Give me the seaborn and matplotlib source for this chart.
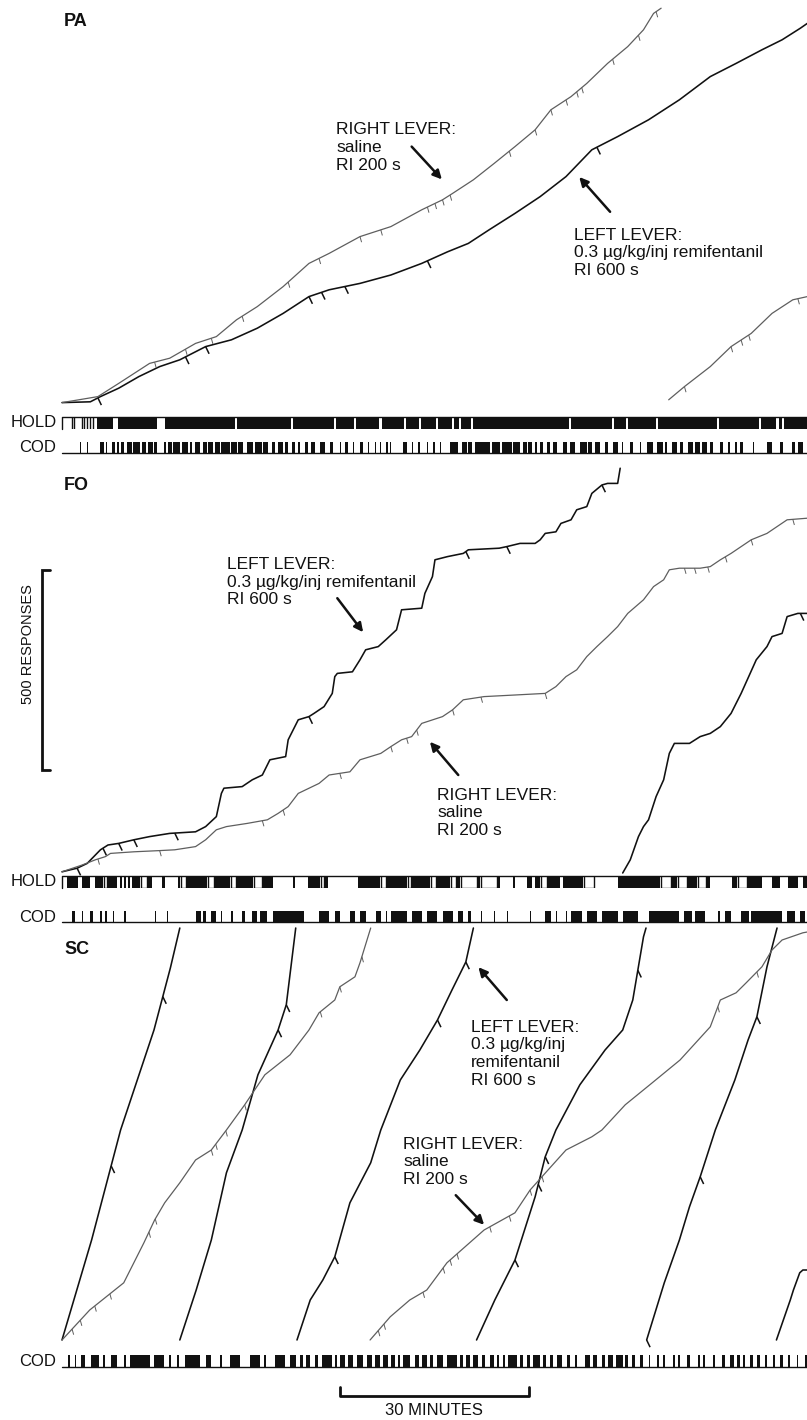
import numpy as np
import matplotlib
matplotlib.use("Agg")
import matplotlib.pyplot as plt
import seaborn as sns

sns.set_theme(style="white")
plt.rcParams["font.family"] = ["Liberation Sans", "DejaVu Sans"]

# ------------------------------------------------------------------ DATA
# time in minutes, cumulative responses (pen resets after ~1000 responses)
# ---- PA ----
pa_left_t = [0, 4.5, 6.1, 9.0, 12.2, 15.5, 18.7, 22.8, 26.9, 31.0, 35.1, 39.2, 42.4, 47.3, 52.2, 57.1, 61.2,
             64.5, 67.8, 71.9, 75.9, 80.0, 84.1, 88.2, 93.1, 98.0, 102.9, 107.0, 111.1, 114.3, 117.2, 118.3]
pa_left_r = [1, 3, 16, 37, 66, 91, 108, 141, 158, 187, 224, 266, 283, 299, 320, 349, 378,
             399, 433, 474, 516, 566, 633, 666, 708, 758, 816, 849, 883, 908, 937, 949]
pa_left_rf = [5.7, 19.6, 22.8, 39.2, 41.2, 44.9, 58.0, 84.9]

pa_right1_t = [0, 5.7, 9.0, 13.9, 17.1, 21.2, 24.5, 27.7, 31.0, 35.1, 39.2, 42.4, 47.3, 52.2, 57.1, 60.4, 62.0,
               65.3, 68.6, 71.9, 75.1, 77.6, 80.8, 83.3, 86.6, 89.8, 92.3, 93.9, 95.1]
pa_right1_r = [1, 16, 49, 99, 112, 149, 166, 208, 241, 291, 349, 374, 416, 441, 483, 508, 524,
               558, 599, 641, 683, 733, 766, 799, 849, 891, 933, 974, 987]
pa_right1_rf = [14.7, 19.6, 23.7, 28.6, 35.9, 40.8, 47.3, 50.6, 58.0, 59.2, 60.4, 61.6, 71.0, 75.1, 77.6,
                80.0, 81.7, 82.5, 87.4, 91.5, 94.3]
pa_right2_t = [96.3, 98.8, 102.9, 106.2, 109.4, 112.7, 116.0, 118.3]
pa_right2_r = [8, 41, 91, 141, 174, 224, 258, 266]
pa_right2_rf = [98.8, 106.2, 107.8, 109.0, 116.8]

# ---- FO ----
fo_left1_t = [0, 2.4, 4.0, 6.1, 7.3, 9.0, 11.4, 13.9, 17.1, 21.2, 22.8, 24.5, 25.3, 25.7, 28.6, 30.2, 31.8,
              33.0, 35.5, 35.9, 36.7, 37.5, 39.2, 40.0, 41.6, 42.9, 43.3, 43.7, 46.1, 47.3, 48.2, 50.2, 51.4,
              53.1, 53.9, 57.1, 57.6, 58.8, 59.2, 61.2, 63.7, 64.5, 69.4, 70.6, 72.7, 75.1, 75.9, 76.7, 78.4,
              79.2, 80.8, 81.7, 83.3, 84.1, 85.7, 86.6, 88.2, 88.6]
fo_left1_r = [3, 12, 24, 58, 70, 74, 83, 91, 99, 103, 116, 141, 199, 212, 216, 233, 245,
              283, 291, 333, 358, 383, 391, 399, 416, 449, 491, 499, 503, 533, 558, 566, 583,
              608, 658, 662, 699, 741, 783, 791, 799, 808, 812, 816, 824, 824, 833, 849, 853,
              874, 883, 908, 916, 949, 970, 974, 974, 1012]
fo_left1_rf = [2.4, 6.5, 9.0, 11.4, 17.9, 39.2, 64.1, 70.6, 85.7]
fo_left2_t = [89.0, 90.2, 91.5, 92.3, 93.1, 94.3, 95.5, 96.4, 97.2, 99.6, 101.3, 102.9, 104.5, 106.2, 107.8,
              109.0, 110.2, 111.9, 112.7, 114.3, 115.1, 116.8, 118.3]
fo_left2_r = [0, 33, 91, 116, 133, 191, 233, 299, 324, 324, 341, 349, 366, 399, 449,
              491, 533, 566, 591, 599, 641, 649, 649]
fo_left2_rf = [117.2]
fo_right_t = [0, 3.2, 5.3, 6.9, 7.7, 11.4, 15.5, 17.9, 21.2, 22.8, 24.5, 26.1, 29.4, 32.6, 34.3, 35.9, 37.5,
              40.8, 42.4, 45.7, 47.3, 50.6, 52.2, 53.9, 55.5, 57.1, 60.4, 62.0, 63.7, 67.0, 71.9, 76.7, 78.4,
              80.0, 81.7, 83.3, 84.9, 86.6, 88.2, 89.8, 92.3, 93.9, 95.5, 96.4, 98.0, 101.3, 102.9, 104.5,
              106.2, 107.8, 109.4, 111.9, 113.5, 115.1, 118.3]
fo_right_r = [3, 20, 33, 41, 49, 53, 56, 58, 66, 83, 108, 116, 124, 133, 149, 166, 199,
              224, 245, 253, 283, 299, 316, 333, 341, 374, 391, 408, 433, 441, 445, 449, 466,
              491, 508, 541, 566, 591, 616, 649, 683, 716, 733, 758, 762, 762, 766, 783,
              799, 816, 833, 849, 866, 883, 887]
fo_right_rf = [5.7, 15.5, 31.8, 35.1, 44.1, 52.2, 54.7, 56.3, 62.0, 66.5, 76.7, 98.8, 100.4, 102.5,
               105.3, 109.4, 116.0]

# ---- SC ----
sc_left_segments = [
    ([0, 4.7, 9.3, 14.6, 17.2, 18.7],
     [0, 250, 525, 775, 930, 1030], [7.8, 16.0]),
    ([18.7, 21.3, 23.7, 26.1, 28.6, 31.1, 34.3, 35.6, 37.1],
     [0, 125, 250, 418, 525, 663, 775, 838, 1030], [34.3, 35.6]),
    ([37.3, 39.4, 41.4, 43.3, 45.7, 49.0, 50.6, 53.7, 56.8, 59.6, 61.9, 64.1, 65.3],
     [0, 100, 150, 208, 343, 443, 525, 650, 725, 800, 875, 945, 1030], [43.3, 59.6, 64.1]),
    ([65.8, 68.7, 71.9, 75.1, 76.7, 78.4, 82.2, 86.2, 89.0, 90.6, 92.3, 92.7],
     [0, 100, 200, 358, 458, 525, 638, 725, 775, 850, 1008, 1030], [71.9, 75.6, 76.7, 91.4]),
    ([92.8, 95.6, 98.0, 99.6, 101.3, 103.7, 106.8, 108.9, 110.3, 111.9, 113.5],
     [0, 143, 250, 333, 408, 525, 650, 750, 808, 933, 1030], [92.8, 101.3, 110.3]),
    ([113.4, 114.5, 115.6, 116.1, 117.1, 117.6, 118.3],
     [0, 50, 100, 125, 168, 175, 175], []),
]
sc_right_segments = [
    ([0, 4.4, 9.8, 13.0, 14.7, 16.3, 18.7, 21.2, 23.7, 26.1, 29.0, 32.2, 36.2, 39.2, 40.8, 43.3, 44.1,
      46.5, 47.3, 49.0],
     [0, 75, 143, 243, 300, 343, 393, 450, 475, 525, 588, 663, 713, 775, 818, 850, 883, 908, 943, 1030],
     [1.6, 2.9, 5.2, 7.6, 13.8, 14.8, 23.7, 24.4, 26.0, 29.0, 41.0, 44.1, 47.6]),
    ([48.9, 52.1, 55.2, 57.9, 61.1, 67.0, 71.9, 74.3, 77.6, 80.0, 84.1, 85.7, 89.4, 93.3, 98.1, 102.9,
      104.5, 107.0, 108.6, 111.1, 112.7, 114.3, 117.6, 118.3],
     [0, 58, 100, 125, 193, 275, 318, 375, 433, 475, 508, 525, 588, 638, 700, 783, 850, 868, 893, 933,
      975, 1000, 1018, 1020],
     [50.2, 51.1, 57.3, 60.5, 61.6, 62.7, 67.9, 71.0, 74.3, 76.2, 104.1, 110.3]),
]

# ---- event records (minutes) ----
pa_hold_start = 5.6
pa_hold_gaps = [(8.1, 8.9), (15.1, 16.3), (27.5, 27.8), (36.3, 36.7), (43.2, 43.5), (46.3, 46.7), (50.3, 50.8),
                (54.3, 54.6), (56.7, 57.0), (59.4, 59.7), (61.9, 62.2), (63.0, 63.3), (64.9, 65.2), (80.5, 80.8),
                (87.3, 87.6), (89.5, 89.8), (94.3, 94.6), (104.0, 104.3), (110.6, 111.0), (113.3, 113.8),
                (114.3, 114.6)]
pa_hold_ticks = [1.6, 1.9, 3.2, 3.5, 4.0, 4.4, 4.9]

pa_cod = [(2.9, 2.9), (4.0, 4.0), (6.0, 6.6), (7.0, 7.0), (7.9, 8.4), (8.8, 8.8), (9.3, 9.8), (10.3, 11.1),
          (11.3, 12.4), (12.7, 13.4), (13.7, 14.4), (14.6, 15.0), (16.2, 16.5), (16.8, 17.4), (17.6, 18.7),
          (19.0, 20.0), (20.3, 20.6), (21.1, 21.9), (22.4, 23.0), (23.2, 24.0), (24.3, 25.1), (25.3, 26.7),
          (26.9, 27.7), (27.9, 28.7), (29.3, 30.3), (30.6, 31.7), (31.9, 32.7), (33.3, 33.8), (34.3, 35.1),
          (35.4, 35.9), (36.5, 37.0), (37.5, 37.8), (38.6, 39.0), (39.6, 40.2), (41.0, 41.7), (42.5, 43.0),
          (44.1, 44.1), (44.9, 45.4), (46.2, 46.2), (47.3, 47.8), (48.6, 48.6), (49.7, 49.7), (50.5, 50.5),
          (51.5, 51.5), (52.1, 52.3), (54.1, 54.8), (55.6, 55.7), (56.5, 56.8), (57.9, 57.9), (58.9, 59.2),
          (60.0, 60.0), (61.6, 62.9), (63.5, 64.3), (64.4, 65.1), (65.6, 67.9), (68.3, 69.5), (69.8, 71.4),
          (71.6, 72.7), (73.2, 73.8), (74.0, 74.6), (75.1, 75.4), (75.9, 76.3), (77.0, 77.5), (77.9, 78.6),
          (79.5, 80.2), (80.6, 81.4), (82.2, 83.3), (83.5, 84.1), (84.6, 85.4), (86.2, 86.7), (87.5, 88.3),
          (88.9, 89.0), (90.2, 90.6), (91.7, 91.7), (92.9, 93.8), (94.4, 95.4), (95.7, 96.0), (96.8, 97.6),
          (98.1, 98.6), (99.4, 100.2), (100.5, 101.3), (101.6, 102.4), (102.9, 103.3), (104.4, 104.9),
          (105.7, 106.0), (106.8, 107.1), (107.6, 108.1), (109.7, 109.7), (111.9, 112.7), (114.0, 114.4),
          (115.9, 116.3), (116.8, 117.6)]

fo_hold_black = [(0.8, 2.5), (3.2, 4.4), (5.2, 6.5), (7.3, 8.7), (9.2, 9.5), (9.8, 10.2), (10.5, 10.8),
                 (11.1, 12.4), (13.7, 14.3), (15.9, 16.3), (18.4, 18.7), (19.8, 23.0), (24.3, 26.7), (27.8, 30.3),
                 (31.9, 33.5), (36.7, 37.0), (39.0, 41.0), (41.7, 42.2), (47.0, 50.5), (51.6, 54.8), (55.6, 58.4),
                 (59.5, 61.6), (62.7, 63.2), (66.0, 66.3), (69.2, 69.5), (71.6, 71.9), (73.8, 74.6), (75.1, 75.9),
                 (77.1, 79.0), (79.5, 82.7), (88.3, 94.9), (96.8, 97.6), (99.4, 100.8), (102.4, 102.9),
                 (106.3, 107.1), (108.9, 111.1), (112.7, 114.0), (115.2, 116.8), (117.6, 118.3)]
fo_hold_low = [(6.7, 7.1), (12.5, 13.5), (18.9, 19.7), (23.2, 24.1), (26.8, 27.6), (30.5, 31.7), (41.1, 41.6),
               (50.6, 51.4), (54.9, 55.4), (58.6, 59.4), (61.7, 62.5), (63.3, 65.9), (66.5, 69.0), (76.0, 77.0),
               (82.9, 84.4), (95.1, 96.7), (97.8, 99.2), (101.0, 102.2), (107.3, 108.7)]

fo_cod = [(1.6, 2.0), (3.2, 3.2), (4.5, 4.9), (6.1, 6.1), (6.9, 6.9), (8.1, 8.1), (9.8, 10.2), (14.7, 14.7),
          (16.7, 16.7), (21.2, 22.0), (22.4, 22.8), (23.7, 24.5), (25.3, 25.3), (26.9, 26.9), (28.6, 29.0),
          (30.2, 31.0), (31.4, 32.6), (33.5, 38.4), (40.8, 42.4), (43.3, 44.1), (45.7, 46.5), (47.3, 48.2),
          (49.8, 50.6), (51.4, 51.4), (52.2, 54.7), (55.5, 57.1), (58.0, 59.6), (60.4, 62.0), (62.9, 63.7),
          (64.5, 64.9), (66.5, 66.5), (68.6, 68.6), (70.6, 70.6), (74.3, 74.3), (76.7, 77.6), (78.4, 78.4),
          (80.0, 80.0), (80.8, 82.5), (83.3, 84.9), (85.7, 88.2), (89.0, 91.5), (93.1, 98.0), (98.8, 100.0),
          (100.4, 102.1), (104.1, 104.5), (105.3, 106.2), (107.8, 109.0), (109.4, 114.3), (115.1, 116.4),
          (117.2, 118.0)]

sc_cod = [(1.0, 1.3), (2.0, 2.2), (3.0, 3.6), (4.6, 5.8), (6.5, 6.8), (7.8, 8.8), (9.8, 10.1), (10.8, 13.9),
          (14.6, 16.2), (17.0, 17.3), (18.3, 18.6), (19.5, 21.9), (22.8, 23.6), (25.1, 25.4), (26.7, 28.3),
          (29.8, 31.4), (32.0, 32.4), (33.8, 35.4), (36.2, 37.2),
          (37.8, 38.3), (38.8, 39.4), (40.2, 40.7), (41.2, 42.8), (43.3, 43.6), (44.1, 44.9), (45.4, 46.2),
          (46.8, 47.8), (48.4, 49.2), (49.7, 50.5), (51.0, 51.8), (52.3, 52.9), (53.4, 53.7), (54.2, 55.2),
          (56.0, 56.6), (57.1, 57.9), (58.4, 58.9), (59.5, 60.5), (61.1, 62.7), (63.2, 63.7), (64.2, 64.8),
          (65.3, 66.1), (66.6, 67.1), (67.9, 68.5), (69.0, 69.3), (70.0, 70.3), (70.8, 72.2), (72.7, 73.2),
          (73.8, 74.3), (74.8, 75.9), (76.4, 76.9), (77.5, 78.0), (78.5, 79.3), (80.1, 80.6), (81.4, 81.7),
          (83.0, 83.8), (84.3, 84.9), (85.7, 86.2), (86.7, 87.5), (88.0, 89.1), (89.4, 89.9), (90.4, 91.0),
          (91.7, 92.3), (93.1, 93.3), (94.4, 94.7), (95.4, 95.7), (97.0, 97.3), (97.8, 98.1), (99.2, 99.7),
          (101.0, 101.3), (101.8, 102.1), (103.4, 103.7), (104.7, 105.2), (106.0, 106.6), (107.1, 107.6),
          (108.1, 108.4), (109.2, 109.7), (110.3, 110.8), (111.6, 111.9), (112.9, 113.2), (114.0, 114.5),
          (115.3, 115.6), (116.6, 116.8), (117.9, 118.2)]

# scale bars
bar_minutes = 30
bar_minutes_start = 44.1
bar_responses = 500
bar_responses_base = 257.5

# ------------------------------------------------------------------ LAYOUT
W, H = 807, 1420
X0 = 62
PX_PER_MIN = 6.3
PX_PER_RESP = 0.4
T_MAX = (W - X0) / PX_PER_MIN
BLACK = "#111111"
GRAY = "#5e5e5e"
FS = 12.5

fig = plt.figure(figsize=(W / 100, H / 100), dpi=100)
fig.patch.set_facecolor("white")


def band(top_px, bottom_px, ylim):
    ax = fig.add_axes([X0 / W, 1 - bottom_px / H, (W - X0) / W, (bottom_px - top_px) / H])
    ax.set_xlim(0, T_MAX)
    ax.set_ylim(*ylim)
    ax.axis("off")
    return ax


def record_axes(bottom_px, ymax):
    return band(bottom_px - ymax * PX_PER_RESP, bottom_px, (0, ymax))


def curve(ax, t, r, rf, color, lw, dx, dy, tlw):
    sns.lineplot(x=t, y=r, ax=ax, color=color, linewidth=lw, sort=False, estimator=None, legend=False)
    for tk in rf:
        r0 = np.interp(tk, t, r)
        ax.plot([tk, tk + dx], [r0, r0 + dy], color=color, lw=tlw, solid_capstyle="butt")
    for ln in ax.lines:
        ln.set_clip_on(False)


def arrow(ax, tail, head):
    ax.annotate("", xy=head, xytext=tail,
                arrowprops=dict(arrowstyle="-|>", color=BLACK, lw=1.8, mutation_scale=13,
                                shrinkA=0, shrinkB=0))


def label(ax, t, r, s):
    ax.text(t, r, s, ha="left", va="center", fontsize=FS, linespacing=1.22, color=BLACK)


def figtext(x, y, s, **kw):
    fig.text(x / W, 1 - y / H, s, color=BLACK, **kw)


BLW, GLW = 1.15, 0.9

# ---- PA record ----
ax_pa = record_axes(403, 1000)
curve(ax_pa, pa_left_t, pa_left_r, pa_left_rf, BLACK, BLW, 0.55, -18, 1.1)
curve(ax_pa, pa_right1_t, pa_right1_r, pa_right1_rf, GRAY, GLW, 0.25, -14, 0.7)
curve(ax_pa, pa_right2_t, pa_right2_r, pa_right2_rf, GRAY, GLW, 0.25, -14, 0.7)
label(ax_pa, 43.5, 639, "RIGHT LEVER:\nsaline\nRI 200 s")
arrow(ax_pa, (55.5, 641), (60.3, 559))
label(ax_pa, 81.3, 375, "LEFT LEVER:\n0.3 µg/kg/inj remifentanil\nRI 600 s")
arrow(ax_pa, (87.0, 478), (82.1, 565))

# ---- FO record ----
ax_fo = record_axes(873, 1020)
curve(ax_fo, fo_left1_t, fo_left1_r, fo_left1_rf, BLACK, BLW, 0.55, -18, 1.1)
curve(ax_fo, fo_left2_t, fo_left2_r, fo_left2_rf, BLACK, BLW, 0.55, -18, 1.1)
curve(ax_fo, fo_right_t, fo_right_r, fo_right_rf, GRAY, GLW, 0.25, -14, 0.7)
label(ax_fo, 26.2, 727, "LEFT LEVER:\n0.3 µg/kg/inj remifentanil\nRI 600 s")
arrow(ax_fo, (43.7, 687), (47.8, 602))
label(ax_fo, 59.6, 150, "RIGHT LEVER:\nsaline\nRI 200 s")
arrow(ax_fo, (62.9, 245), (58.4, 328))
# 500 responses bar
bx, sx = -3.17, -1.9
ax_fo.plot([sx, bx, bx, sx], [bar_responses_base + bar_responses, bar_responses_base + bar_responses,
                              bar_responses_base, bar_responses_base],
           color=BLACK, lw=2.0, clip_on=False, solid_joinstyle="miter")
ax_fo.text(-5.4, 572, "500 RESPONSES", rotation=90, ha="center", va="center", fontsize=10.5, color=BLACK)

# ---- SC record ----
ax_sc = record_axes(1340, 1035)
for t, r, rf in sc_left_segments:
    curve(ax_sc, t, r, rf, BLACK, BLW, 0.55, -18, 1.1)
for t, r, rf in sc_right_segments:
    curve(ax_sc, t, r, rf, GRAY, GLW, 0.25, -14, 0.7)
label(ax_sc, 64.9, 716, "LEFT LEVER:\n0.3 µg/kg/inj\nremifentanil\nRI 600 s")
arrow(ax_sc, (70.6, 850), (66.1, 932))
label(ax_sc, 54.2, 445, "RIGHT LEVER:\nsaline\nRI 200 s")
arrow(ax_sc, (62.5, 362), (67.0, 288))

# ---- event rows ----
MINW = 0.17


def cod_row(top, bottom, ticks):
    ax = band(top, bottom, (0, 1))
    ax.plot([0, T_MAX], [0, 0], color=BLACK, lw=1.0, clip_on=False)
    ax.broken_barh([(a, max(b - a, MINW)) for a, b in ticks], (0, 1), color=BLACK, lw=0)
    return ax


def hold_row_pa(top, bottom):
    ax = band(top, bottom, (0, 1))
    ax.plot([0, 0, T_MAX], [0, 1, 1], color=BLACK, lw=1.0, clip_on=False)
    edges = [pa_hold_start]
    for a, b in pa_hold_gaps:
        edges += [a, b]
    edges.append(T_MAX)
    blocks = [(edges[i], edges[i + 1] - edges[i]) for i in range(0, len(edges), 2)]
    ax.broken_barh(blocks, (0, 1), color=BLACK, lw=0)
    ax.vlines(pa_hold_ticks, 0, 1, color=BLACK, lw=1.0)
    return ax


def hold_row_fo(top, bottom):
    ax = band(top, bottom, (0, 1))
    ax.plot([0, 0, T_MAX], [0, 1, 1], color=BLACK, lw=1.0, clip_on=False)
    for a, b in fo_hold_low:
        ax.fill_between([a, b], 0.9, 1.1, color="white", lw=0)
        ax.plot([a, a, b, b], [1, 0, 0, 1], color=BLACK, lw=1.0)
    ax.broken_barh([(a, b - a) for a, b in fo_hold_black], (0, 1), color=BLACK, lw=0)
    return ax


hold_row_pa(417, 429)
cod_row(442, 453, pa_cod)
hold_row_fo(876, 888)
cod_row(911, 922, fo_cod)
cod_row(1355, 1367, sc_cod)

figtext(57, 423, "HOLD", ha="right", va="center", fontsize=12)
figtext(56, 448, "COD", ha="right", va="center", fontsize=12)
figtext(57, 882, "HOLD", ha="right", va="center", fontsize=12)
figtext(56, 917, "COD", ha="right", va="center", fontsize=12)
figtext(56, 1361, "COD", ha="right", va="center", fontsize=12)

figtext(64, 22, "PA", ha="left", va="center", fontsize=13, fontweight="bold")
figtext(64, 486, "FO", ha="left", va="center", fontsize=13, fontweight="bold")
figtext(64, 950, "SC", ha="left", va="center", fontsize=13, fontweight="bold")

# ---- 30 minutes bar ----
ax_bar = band(1387, 1396, (0, 1))
ax_bar.plot([bar_minutes_start, bar_minutes_start, bar_minutes_start + bar_minutes,
             bar_minutes_start + bar_minutes], [1, 0, 0, 1], color=BLACK, lw=2.0, clip_on=False)
ax_bar.text(bar_minutes_start + bar_minutes / 2, -1.6, "30 MINUTES", ha="center", va="center",
            fontsize=12, color=BLACK)

fig.savefig("out.png", dpi=100, facecolor="white")
